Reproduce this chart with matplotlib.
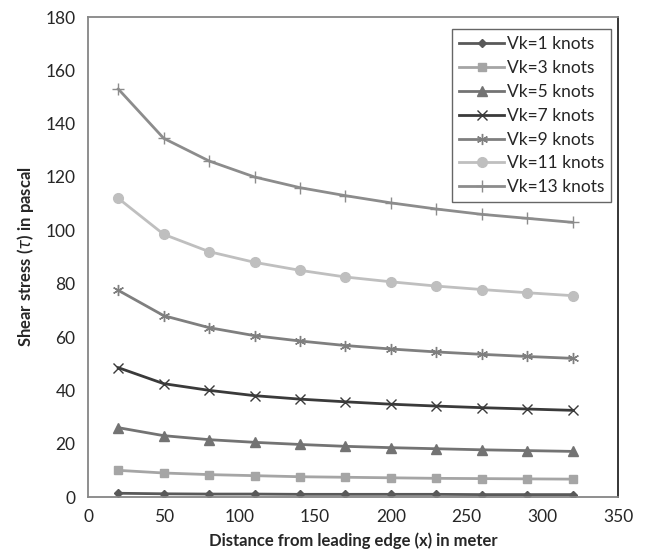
import matplotlib
matplotlib.use("Agg")
import matplotlib.pyplot as plt

plt.rcParams['font.family'] = ['Lato', 'DejaVu Sans']

# distance from leading edge (m)
x = [20, 50, 80, 110, 140, 170, 200, 230, 260, 290, 320]

# shear stress in pascal
vk1 = [1.4, 1.2, 1.1, 1.1, 1.0, 1.0, 1.0, 1.0, 0.9, 0.9, 0.9]
vk3 = [10.0, 9.0, 8.4, 8.0, 7.6, 7.4, 7.2, 7.0, 6.9, 6.8, 6.7]
vk5 = [26.0, 23.0, 21.5, 20.5, 19.7, 19.0, 18.5, 18.1, 17.7, 17.4, 17.1]
vk7 = [48.5, 42.5, 40.0, 38.0, 36.7, 35.7, 34.8, 34.1, 33.5, 33.0, 32.5]
vk9 = [77.5, 68.0, 63.5, 60.5, 58.5, 56.8, 55.5, 54.4, 53.5, 52.7, 52.0]
vk11 = [112.0, 98.5, 92.0, 88.0, 85.0, 82.5, 80.7, 79.1, 77.8, 76.6, 75.5]
vk13 = [153.0, 134.5, 126.0, 120.0, 116.0, 113.0, 110.3, 108.0, 106.0, 104.5, 103.0]

series = [vk1, vk3, vk5, vk7, vk9, vk11, vk13]
labels = ["Vk=1 knots", "Vk=3 knots", "Vk=5 knots", "Vk=7 knots",
          "Vk=9 knots", "Vk=11 knots", "Vk=13 knots"]

# styles: (color, marker, marker size)
styles = [
    ("#595959", "D", 4.5),
    ("#a5a5a5", "s", 6),
    ("#737373", "^", 6.5),
    ("#3a3a3a", "x", 6.5),
    ("#7f7f7f", (6, 2, 0), 8),
    ("#bfbfbf", "o", 7),
    ("#8c8c8c", "+", 8),
]

fig = plt.figure(figsize=(6.49, 5.58), dpi=100)
ax = fig.add_axes([88 / 649, 1 - 497 / 558, 530 / 649, 480 / 558])

for y, lab, (c, m, ms) in zip(series, labels, styles):
    ax.plot(x, y, color=c, marker=m, markersize=ms, linewidth=2.0,
            markeredgecolor=c, markerfacecolor=c, markeredgewidth=1.0,
            label=lab)

ax.set_xlim(0, 350)
ax.set_ylim(0, 180)
ax.set_xticks(range(0, 351, 50))
ax.set_yticks(range(0, 181, 20))
ax.tick_params(length=0, labelsize=12.5, pad=9)
for lbl in ax.get_xticklabels() + ax.get_yticklabels():
    lbl.set_color("#262626")

ax.spines['left'].set_color("#868686")
ax.spines['bottom'].set_color("#868686")
ax.spines['top'].set_color("#868686")
ax.spines['right'].set_color("#262626")
for s in ax.spines.values():
    s.set_linewidth(1.3)

ax.set_xlabel("Distance from leading edge (x) in meter", fontsize=12,
              fontweight="bold", color="#262626", labelpad=5)
ax.set_ylabel("Shear stress ($\\tau$) in pascal", fontsize=12,
              fontweight="bold", color="#262626", labelpad=7)

leg = ax.legend(loc="upper right", bbox_to_anchor=(608 / 618 + 0.003, 0.974),
                fontsize=12.5, frameon=True, fancybox=False, handlelength=2.6,
                handletextpad=0.15, borderpad=0.4, labelspacing=0.45,
                borderaxespad=0)
leg.get_frame().set_edgecolor("#404040")
leg.get_frame().set_linewidth(1.0)
for t in leg.get_texts():
    t.set_color("#262626")

fig.savefig("out.png", dpi=100)
